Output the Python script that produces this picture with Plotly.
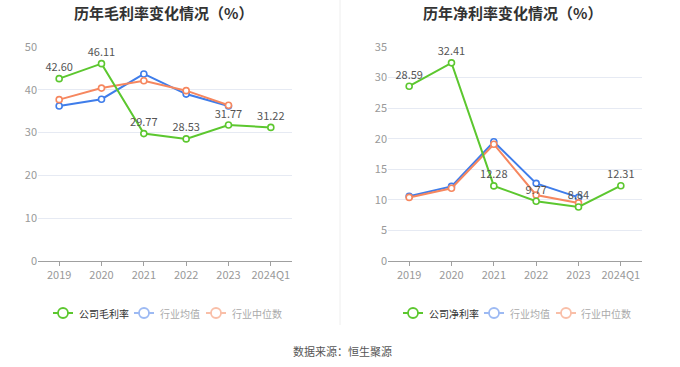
import plotly.graph_objects as go

categories = ["2019", "2020", "2021", "2022", "2023", "2024Q1"]
gross_company = [42.60, 46.11, 29.77, 28.53, 31.77, 31.22]
gross_ind_avg = [36.2, 37.8, 43.7, 39.0, 36.2]
gross_ind_med = [37.7, 40.4, 42.1, 39.8, 36.4]
net_company = [28.59, 32.41, 12.28, 9.77, 8.84, 12.31]
net_ind_avg = [10.6, 12.2, 19.5, 12.7, 10.4]
net_ind_med = [10.4, 11.9, 19.1, 10.8, 9.5]
gross_yticks = [0, 10, 20, 30, 40, 50]
net_yticks = [0, 5, 10, 15, 20, 25, 30, 35]

W, H = 680, 367
GREEN = "#5CC72F"
BLUE = "#3F7DEA"
ORANGE = "#F6875F"
FONT = "Noto Sans CJK SC"

def px(x):
    return x / W

def py(y):
    return 1 - y / H

fig = go.Figure()

def add_series(xa, ya, ys, color, labels):
    fig.add_trace(go.Scatter(
        x=categories[:len(ys)], y=ys, xaxis=xa, yaxis=ya,
        mode="lines+markers+text" if labels else "lines+markers",
        line=dict(color=color, width=2),
        marker=dict(symbol="circle", size=6, color="white",
                    line=dict(color=color, width=1.6)),
        text=[f"{v:.2f}" for v in ys] if labels else None,
        textposition="top center",
        textfont=dict(size=11, color="#555555", family=FONT),
        showlegend=False, hoverinfo="skip", cliponaxis=False,
    ))

add_series("x", "y", gross_ind_avg, BLUE, False)
add_series("x", "y", gross_ind_med, ORANGE, False)
add_series("x", "y", gross_company, GREEN, True)
add_series("x2", "y2", net_ind_avg, BLUE, False)
add_series("x2", "y2", net_ind_med, ORANGE, False)
add_series("x2", "y2", net_company, GREEN, True)

ydom = [py(261), py(47)]
common_x = dict(type="category", range=[-0.5, 5.5], showgrid=False,
                showline=True, linecolor="#A0A0A0", linewidth=1,
                ticks="outside", ticklen=4, tickcolor="#A0A0A0",
                tickfont=dict(size=11, color="#999999", family=FONT),
                fixedrange=True)
common_y = dict(showgrid=True, gridcolor="#E6EAF3", gridwidth=1,
                zeroline=False, showline=False, ticks="",
                tickfont=dict(size=11, color="#999999", family=FONT),
                domain=ydom, fixedrange=True)

fig.update_layout(
    width=W, height=H,
    margin=dict(l=0, r=0, t=0, b=0, autoexpand=False),
    paper_bgcolor="white", plot_bgcolor="white",
    xaxis=dict(domain=[px(38), px(292)], anchor="y", **common_x),
    yaxis=dict(range=[0, 50], tickvals=gross_yticks, anchor="x", **common_y),
    xaxis2=dict(domain=[px(388), px(642)], anchor="y2", **common_x),
    yaxis2=dict(range=[0, 35], tickvals=net_yticks, anchor="x2", **common_y),
    showlegend=False,
    font=dict(family=FONT),
)

shapes = []
annotations = []

# divider
shapes.append(dict(type="line", xref="paper", yref="paper",
                   x0=px(340), x1=px(340), y0=py(0), y1=py(325),
                   line=dict(color="#EEEEEE", width=1)))

# titles
for cx, t in [(163, "历年毛利率变化情况（%）"), (512, "历年净利率变化情况（%）")]:
    annotations.append(dict(x=px(cx), y=py(12), xref="paper", yref="paper",
                            text=f"<b>{t}</b>", showarrow=False,
                            xanchor="center", yanchor="middle",
                            font=dict(size=15, color="#333333", family=FONT)))

# legends
LBLUE = "#9DBAF3"
LORANGE = "#F9BFA8"
legend_items = [
    (63, 77, GREEN, "公司毛利率", "#333333"),
    (144, 158, LBLUE, "行业均值", "#AAAAAA"),
    (216, 230, LORANGE, "行业中位数", "#AAAAAA"),
    (413, 427, GREEN, "公司净利率", "#333333"),
    (494, 508, LBLUE, "行业均值", "#AAAAAA"),
    (566, 579, LORANGE, "行业中位数", "#AAAAAA"),
]
ly = 313
for cx, tx, lc, name, tc in legend_items:
    shapes.append(dict(type="line", xref="paper", yref="paper",
                       x0=px(cx - 10), x1=px(cx + 10), y0=py(ly), y1=py(ly),
                       line=dict(color=lc, width=2)))
    shapes.append(dict(type="circle", xref="paper", yref="paper",
                       xsizemode="pixel", ysizemode="pixel",
                       xanchor=px(cx), yanchor=py(ly),
                       x0=-5, x1=5, y0=-5, y1=5,
                       fillcolor="white", line=dict(color=lc, width=1.8)))
    annotations.append(dict(x=px(tx), y=py(ly), xref="paper", yref="paper",
                            text=name, showarrow=False,
                            xanchor="left", yanchor="middle",
                            font=dict(size=10, color=tc, family=FONT)))

annotations.append(dict(x=px(342), y=py(351), xref="paper", yref="paper",
                        text="数据来源：恒生聚源", showarrow=False,
                        xanchor="center", yanchor="middle",
                        font=dict(size=11, color="#555555", family=FONT)))

fig.update_layout(shapes=shapes, annotations=annotations)
fig.write_html("out.html", config={"displayModeBar": False},
               post_script="document.body.style.margin='0';document.body.style.overflow='hidden';")
